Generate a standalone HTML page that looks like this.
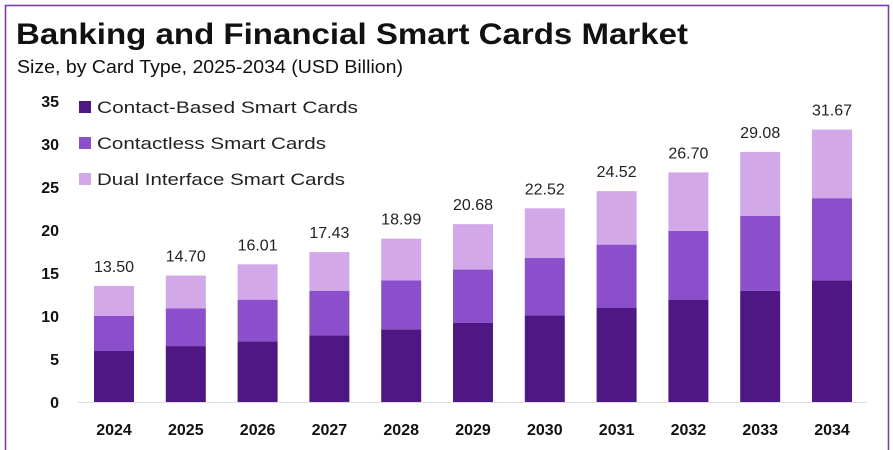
<!DOCTYPE html>
<html><head><meta charset="utf-8"><style>
html,body{margin:0;padding:0;background:#fff;}
svg{display:block;font-family:"Liberation Sans",sans-serif;}
</style></head><body>
<svg id="chart" width="893" height="450" viewBox="0 0 893 450">
<rect x="5.5" y="5.5" width="883" height="460" fill="none" stroke="#7b3fa6" stroke-width="1.6"/>
<text x="16" y="44" font-size="30" font-weight="bold" fill="#111" textLength="672" lengthAdjust="spacingAndGlyphs">Banking and Financial Smart Cards Market</text>
<text x="17" y="73" font-size="18" fill="#111" textLength="386" lengthAdjust="spacingAndGlyphs">Size, by Card Type, 2025-2034 (USD Billion)</text>
<g id="yaxis"></g>
<g id="bars"></g>
<line x1="78" y1="402.5" x2="867" y2="402.5" stroke="#ddd" stroke-width="1"/>
<g>
<rect x="79" y="101" width="12" height="12" fill="#4f1783"/>
<text x="97" y="113" font-size="17" fill="#222" textLength="261" lengthAdjust="spacingAndGlyphs">Contact-Based Smart Cards</text>
<rect x="79" y="137" width="12" height="12" fill="#8b4fcc"/>
<text x="97" y="149" font-size="17" fill="#222" textLength="229" lengthAdjust="spacingAndGlyphs">Contactless Smart Cards</text>
<rect x="79" y="173" width="12" height="12" fill="#d3a8e8"/>
<text x="97" y="185" font-size="17" fill="#222" textLength="248" lengthAdjust="spacingAndGlyphs">Dual Interface Smart Cards</text>
</g>
</svg>
<script>
const years = ["2024","2025","2026","2027","2028","2029","2030","2031","2032","2033","2034"];
const contactBased = [5.97,6.5,7.06,7.75,8.45,9.19,10.08,10.93,11.9,12.94,14.15];
const contactless = [4.03,4.4,4.84,5.19,5.7,6.21,6.66,7.37,8.0,8.72,9.55];
const totals = [13.50,14.70,16.01,17.43,18.99,20.68,22.52,24.52,26.70,29.08,31.67];
const totalLabels = ["13.50","14.70","16.01","17.43","18.99","20.68","22.52","24.52","26.70","29.08","31.67"];
const yTicks = [0,5,10,15,20,25,30,35];

const NS="http://www.w3.org/2000/svg";
const y0=402, pxPerUnit=8.6;
function yScale(v){return y0 - v*pxPerUnit;}
function xScale(i){return 94 + i*71.8;}
const barW=40;
function mk(tag,attrs){const e=document.createElementNS(NS,tag);for(const k in attrs)e.setAttribute(k,attrs[k]);return e;}

const yg=document.getElementById('yaxis');
yTicks.forEach(t=>{
  const tx=mk('text',{x:59,y:yScale(t)+6,'font-size':16,'font-weight':'bold','text-anchor':'end',fill:'#111'});
  
  
  tx.textContent=t;yg.appendChild(tx);
});

const bg=document.getElementById('bars');
years.forEach((yr,i)=>{
  const x=xScale(i);
  const c=contactBased[i], cl=contactless[i], d=totals[i]-c-cl;
  const r1=mk('rect',{x:x,y:yScale(c),width:barW,height:c*pxPerUnit,fill:'#4f1783'});
  
  
  bg.appendChild(r1);
  const r2=mk('rect',{x:x,y:yScale(c+cl),width:barW,height:cl*pxPerUnit,fill:'#8b4fcc'});
  
  
  bg.appendChild(r2);
  const r3=mk('rect',{x:x,y:yScale(totals[i]),width:barW,height:d*pxPerUnit,fill:'#d3a8e8'});
  
  
  bg.appendChild(r3);
  const lt=mk('text',{x:x+barW/2,y:yScale(totals[i])-14,'font-size':16,'text-anchor':'middle',fill:'#222'});
  
  
  lt.textContent=totalLabels[i];bg.appendChild(lt);
  const xl=mk('text',{x:x+barW/2,y:435,'font-size':16,'font-weight':'bold','text-anchor':'middle',fill:'#111'});
  
  
  xl.textContent=yr;bg.appendChild(xl);
});
</script>
</body></html>
